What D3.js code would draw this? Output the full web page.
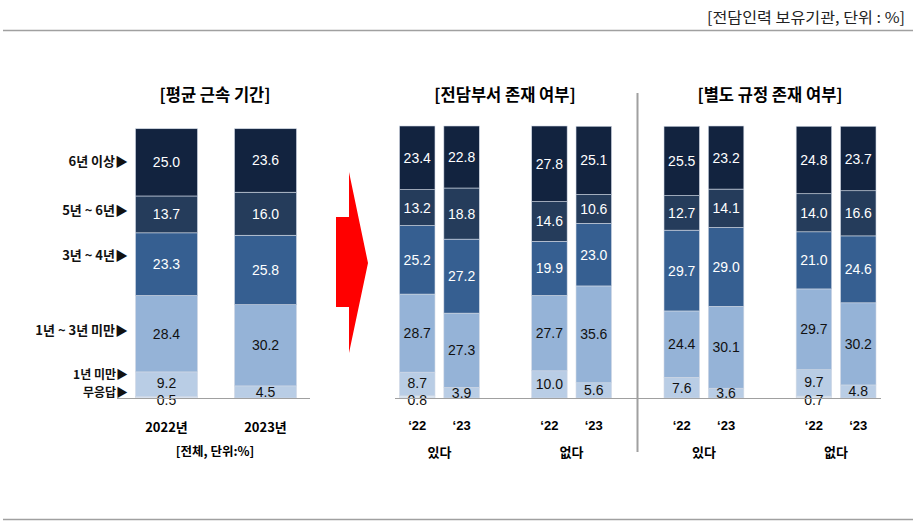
<!DOCTYPE html>
<html><head><meta charset="utf-8">
<script src="https://cdn.jsdelivr.net/npm/d3@7"></script>
<style>
body{margin:0;background:#fff;}
text{font-family:"Liberation Sans","Noto Sans CJK KR",Arial,sans-serif;}
.kr{font-family:"Noto Sans CJK KR","Liberation Sans",sans-serif;}
</style></head>
<body><svg id="c" width="916" height="530"></svg>
<script>
// Segments, bottom to top
const segments = ["무응답","1년 미만","1년 ~ 3년 미만","3년 ~ 4년","5년 ~ 6년","6년 이상"];
const colors = ["#dce6f2","#b9cde5","#95b3d7","#365f91","#253c5b","#12233f"];
const textColors = ["#111","#111","#111","#fff","#fff","#fff"];

// Left panel: total
const totalYears = ["2022년","2023년"];
const total2022 = [0.5, 9.2, 28.4, 23.3, 13.7, 25.0];
const total2023 = [0, 4.5, 30.2, 25.8, 16.0, 23.6];

// Middle panel: 전담부서 존재 여부
const groupNames = ["있다","없다"];
const shortYears = ["\u201822","\u201823"];
const dept_yes_22 = [0.8, 8.7, 28.7, 25.2, 13.2, 23.4];
const dept_yes_23 = [0, 3.9, 27.3, 27.2, 18.8, 22.8];
const dept_no_22 = [0, 10.0, 27.7, 19.9, 14.6, 27.8];
const dept_no_23 = [0, 5.6, 35.6, 23.0, 10.6, 25.1];

// Right panel: 별도 규정 존재 여부
const rule_yes_22 = [0, 7.6, 24.4, 29.7, 12.7, 25.5];
const rule_yes_23 = [0, 3.6, 30.1, 29.0, 14.1, 23.2];
const rule_no_22 = [0.7, 9.7, 29.7, 21.0, 14.0, 24.8];
const rule_no_23 = [0, 4.8, 30.2, 24.6, 16.6, 23.7];

const svg = d3.select("#c");
const baseY = 398;

// header
svg.append("text").attr("x",905).attr("y",23).attr("text-anchor","end")
  .attr("class","kr").attr("font-size",15).attr("fill","#222")
  .attr("textLength",198).attr("lengthAdjust","spacingAndGlyphs").text("[전담인력 보유기관, 단위 : %]");
svg.append("line").attr("x1",3).attr("x2",913).attr("y1",30.5).attr("y2",30.5).attr("stroke","#a0a0a0").attr("stroke-width",1.5);
svg.append("line").attr("x1",3).attr("x2",913).attr("y1",519.5).attr("y2",519.5).attr("stroke","#a0a0a0").attr("stroke-width",1.5);

function drawBar(vals, x0, w, topY){
  const y = d3.scaleLinear().domain([0,100]).range([baseY, topY]);
  let cum = 0;
  const g = svg.append("g");
  vals.forEach((v,i)=>{
    const y0 = y(cum), y1 = y(cum+v);
    cum += v;
    if(v<=0) return;
    g.append("rect").attr("x",x0).attr("width",w).attr("y",y1).attr("height",y0-y1)
      .attr("fill",colors[i]).attr("stroke","#d0d8e4").attr("stroke-width",0.6);
  });
  cum = 0;
  vals.forEach((v,i)=>{
    const y0 = y(cum), y1 = y(cum+v);
    cum += v;
    if(v<=0) return;
    let ty = (y0+y1)/2 + 5;
    if(i===0) ty = baseY + 7;
    else if(i===1 && vals[0]>0) ty = (y0+y1)/2 + 4;
    g.append("text").attr("x",x0+w/2).attr("y",ty).attr("text-anchor","middle")
      .attr("font-size",14).attr("fill",i===0?"#111":textColors[i]).text(v.toFixed(1));
  });
}

// Left panel
const xL = d3.scaleBand().domain(totalYears).range([135.5,296.5]).paddingInner(0.374).paddingOuter(0);
[total2022,total2023].forEach((vals,i)=>drawBar(vals, xL(totalYears[i]), xL.bandwidth(), 129));
svg.append("line").attr("x1",117).attr("x2",310).attr("y1",baseY+0.5).attr("y2",baseY+0.5).attr("stroke","#a0a0a0").attr("stroke-width",1.2);
totalYears.forEach(t=>{
  svg.append("text").attr("x",xL(t)+xL.bandwidth()/2).attr("y",432).attr("text-anchor","middle")
    .attr("class","kr").attr("font-weight","bold").attr("font-size",13).text(t);
});
svg.append("text").attr("x",215).attr("y",456).attr("text-anchor","middle").attr("class","kr")
  .attr("font-weight","bold").attr("font-size",12.5).text("[전체, 단위:%]");
svg.append("text").attr("x",215).attr("y",101).attr("text-anchor","middle").attr("class","kr")
  .attr("font-weight","bold").attr("font-size",16.5).text("[평균 근속 기간]");
const legendY = [397,379,335,260,215,166];
segments.forEach((s,i)=>{
  svg.append("text").attr("x",128).attr("y",legendY[i]).attr("text-anchor","end").attr("class","kr")
    .attr("font-weight","bold").attr("font-size",i<2?12:13).attr("fill","#111").text(s+"▶");
});

// Arrow
const arrowPts = [[336,217],[349,217],[349,172],[368,263],[349,353],[349,307],[336,307]];
svg.append("polygon").attr("points",arrowPts.map(p=>p.join(",")).join(" ")).attr("fill","#ff0000");

// Middle & right panels
function panel(groups, xStart, xEnd, title, titleX){
  const xg = d3.scaleBand().domain(groupNames).range([xStart,xEnd]).paddingInner(0.396).paddingOuter(0);
  groupNames.forEach((gname,gi)=>{
    const xy = d3.scaleBand().domain(shortYears).range([xg(gname), xg(gname)+xg.bandwidth()]).paddingInner(0.2);
    shortYears.forEach((yr,yi)=>{
      drawBar(groups[gi][yi], xy(yr), xy.bandwidth(), 126);
      svg.append("text").attr("x",xy(yr)+xy.bandwidth()/2).attr("y",430).attr("text-anchor","middle")
        .attr("font-weight","bold").attr("font-size",13).text(yr);
    });
    svg.append("text").attr("x",xg(gname)+xg.bandwidth()/2).attr("y",457).attr("text-anchor","middle")
      .attr("class","kr").attr("font-weight","bold").attr("font-size",13).text(gname);
  });
  svg.append("text").attr("x",titleX).attr("y",101).attr("text-anchor","middle").attr("class","kr")
    .attr("font-weight","bold").attr("font-size",16.5).text(title);
}
panel([[dept_yes_22,dept_yes_23],[dept_no_22,dept_no_23]], 399.5, 611.5, "[전담부서 존재 여부]", 505);
panel([[rule_yes_22,rule_yes_23],[rule_no_22,rule_no_23]], 664, 876, "[별도 규정 존재 여부]", 770);
svg.append("line").attr("x1",395).attr("x2",881).attr("y1",baseY+0.5).attr("y2",baseY+0.5).attr("stroke","#a0a0a0").attr("stroke-width",1.2);
svg.append("line").attr("x1",637.5).attr("x2",637.5).attr("y1",93).attr("y2",452).attr("stroke","#a0a0a0").attr("stroke-width",2);
</script></body></html>
